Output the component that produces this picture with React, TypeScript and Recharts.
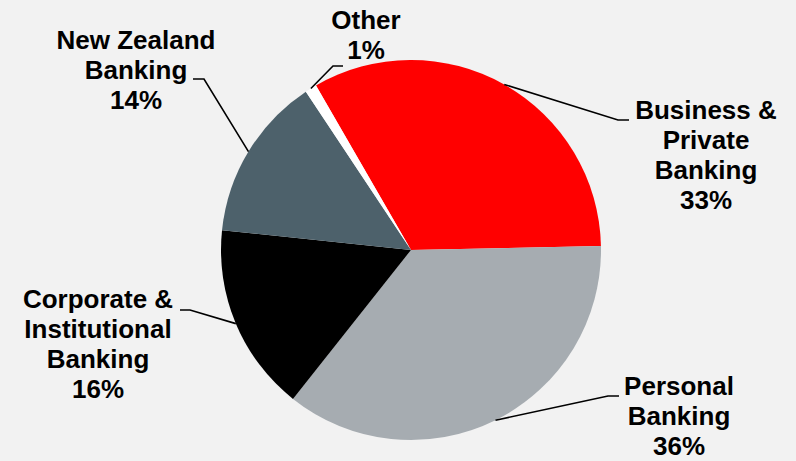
import React from "react";
import { PieChart, Pie, Cell } from "recharts";

const categories = [
  "Business & Private Banking",
  "Personal Banking",
  "Corporate & Institutional Banking",
  "New Zealand Banking",
  "Other",
];
const shares = [33, 36, 16, 14, 1];
const labelLines = [
  ["Business &", "Private", "Banking", "33%"],
  ["Personal", "Banking", "36%"],
  ["Corporate &", "Institutional", "Banking", "16%"],
  ["New Zealand", "Banking", "14%"],
  ["Other", "1%"],
];
const colors = ["#ff0000", "#a6acb1", "#000000", "#4d616b", "#ffffff"];

// leader-line layout: elbow offset from pie centre, horizontal tail, text offset from tail end, first baseline offset from elbow
const labelLayout = [
  { ex: 207, ey: -130, tail: 11, tx: 77, by: -1 },
  { ex: 197, ey: 146, tail: 11, tx: 60, by: -1 },
  { ex: -221, ey: 60, tail: -10, tx: -82, by: -2 },
  { ex: -207, ey: -171, tail: -11, tx: -57, by: -30 },
  { ex: -78, ey: -184, tail: 10, tx: 23, by: -37 },
];

const data = categories.map((name, i) => ({ name, value: shares[i] }));
const RAD = Math.PI / 180;

const renderLabel = (props: any) => {
  const { cx, cy, midAngle, outerRadius, index } = props;
  const L = labelLayout[index];
  const sx = cx + outerRadius * Math.cos(-midAngle * RAD);
  const sy = cy + outerRadius * Math.sin(-midAngle * RAD);
  const exx = cx + L.ex;
  const eyy = cy + L.ey;
  const endX = exx + L.tail;
  const textX = endX + L.tx;
  return (
    <g key={`lbl-${index}`}>
      <polyline
        points={`${sx},${sy} ${exx},${eyy} ${endX},${eyy}`}
        fill="none"
        stroke="#000"
        strokeWidth={1.6}
      />
      {labelLines[index].map((t, j) => (
        <text
          key={j}
          x={textX}
          y={eyy + L.by + j * 30}
          textAnchor="middle"
          fontFamily="'Liberation Sans', Arial, sans-serif"
          fontWeight="bold"
          fontSize={26}
          fill="#000"
        >
          {t}
        </text>
      ))}
    </g>
  );
};

export default function App() {
  return (
    <div
      style={{
        position: "absolute",
        left: 0,
        top: 0,
        width: 796,
        height: 461,
        background: "#f2f2f2",
      }}
    >
      <PieChart
        width={796}
        height={461}
        margin={{ top: 0, right: 0, bottom: 0, left: 0 }}
      >
        <Pie
          data={data}
          dataKey="value"
          nameKey="name"
          cx={411}
          cy={250}
          outerRadius={190}
          startAngle={120}
          endAngle={-240}
          stroke="none"
          isAnimationActive={false}
          labelLine={false}
          label={renderLabel}
        >
          {data.map((d, i) => (
            <Cell key={d.name} fill={colors[i]} stroke="none" />
          ))}
        </Pie>
      </PieChart>
    </div>
  );
}
